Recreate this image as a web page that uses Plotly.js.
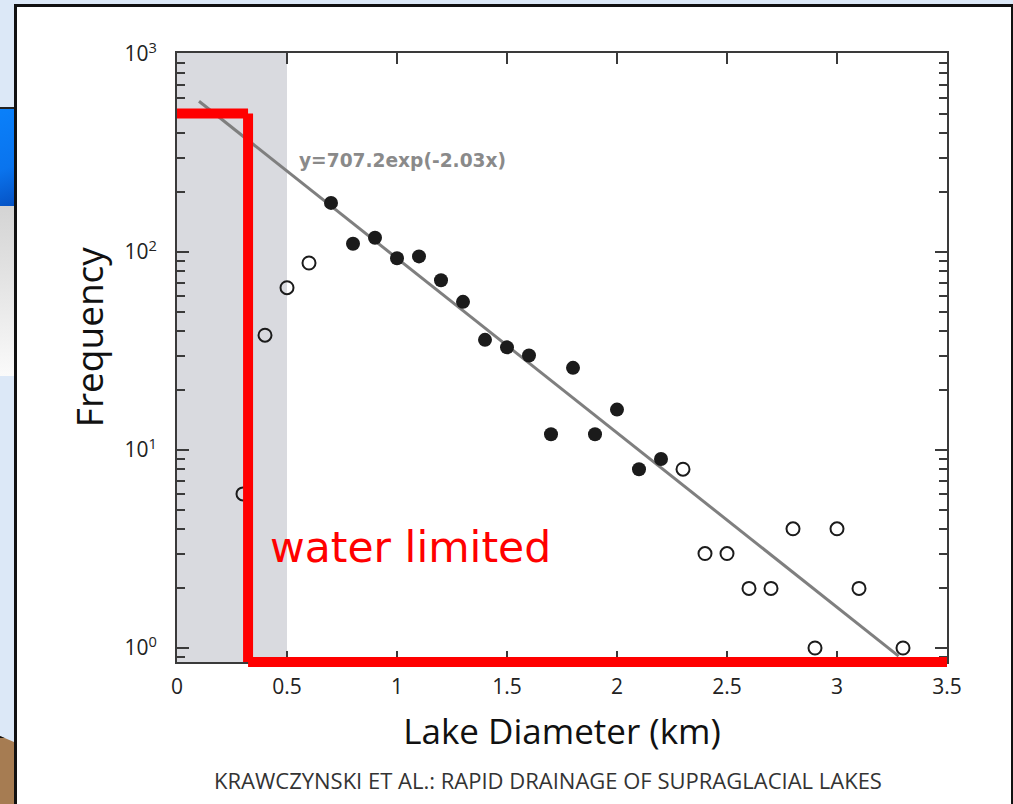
<!DOCTYPE html>
<html><head><meta charset="utf-8">
<script src="https://cdn.plot.ly/plotly-3.0.1.min.js"></script>
<style>
html,body{margin:0;padding:0;width:1013px;height:804px;overflow:hidden;background:#dce8f7;}
.panel{position:absolute;left:14px;top:4px;width:994px;height:820px;background:#fff;border-left:3px solid #111;border-top:3px solid #111;border-right:2px solid #111;}
.blue{position:absolute;left:0;top:107px;width:14px;height:97px;background:linear-gradient(160deg,#0a80fa,#0a74ee 60%,#0552c4);border-top:2px solid #222;border-bottom:2px solid #222;}
.grey{position:absolute;left:0;top:206px;width:14px;height:170px;background:linear-gradient(180deg,#d4d4d4,#e6e6e6 50%,#fafafa);}
.brown{position:absolute;left:0;top:736px;width:14px;height:70px;background:#a67c52;clip-path:polygon(0 0,100% 6px,100% 100%,0 100%);border-top:2px solid #111;}
#chart{position:absolute;left:0;top:0;width:1013px;height:804px;}
</style>
</head>
<body>
<div class="blue"></div>
<div class="grey"></div>
<div class="brown"></div>
<div class="panel"></div>
<div id="chart"></div>
<script>
// Lake diameter (km) vs frequency
const openLowX = [0.3, 0.4, 0.5, 0.6];
const openLowY = [6, 38, 66, 88];
const filledX = [0.7, 0.8, 0.9, 1.0, 1.1, 1.2, 1.3, 1.4, 1.5, 1.6, 1.7, 1.8, 1.9, 2.0, 2.1, 2.2];
const filledY = [177, 110, 118, 93, 95, 72, 56, 36, 33, 30, 12, 26, 12, 16, 8, 9];
const openHighX = [2.3, 2.4, 2.5, 2.6, 2.7, 2.8, 2.9, 3.0, 3.1, 3.3];
const openHighY = [8, 3, 3, 2, 2, 4, 1, 4, 2, 1];
// fitted exponential y=707.2exp(-2.03x): straight on log axis, end points
const fitX = [0.1, 3.28];
const fitY = [577, 0.91];
const fitLabel = 'y=707.2exp(-2.03x)';
// shaded region and red "water limited" outline
const shadeX = [0, 0.5];
const waterLimitX = 0.323;
const waterLimitY = 500;
const yBottom = 0.85;
const xTickVals = [0, 0.5, 1, 1.5, 2, 2.5, 3, 3.5];
const xTickText = ['0', '0.5', '1', '1.5', '2', '2.5', '3', '3.5'];
const yTickVals = [1, 10, 100, 1000];
const yTickText = ['10<sup>0</sup>', '10<sup>1</sup>', '10<sup>2</sup>', '10<sup>3</sup>'];

const ink = '#1b1b1b';
const axisCol = '#3a3a3a';

const traces = [
  {x: fitX, y: fitY, mode: 'lines', line: {color: '#7f7f7f', width: 3}, hoverinfo: 'skip', showlegend: false},
  {x: openLowX, y: openLowY, mode: 'markers', showlegend: false,
   marker: {symbol: 'circle-open', size: 13, color: ink, line: {width: 2, color: ink}}},
  {x: filledX, y: filledY, mode: 'markers', showlegend: false,
   marker: {symbol: 'circle', size: 14, color: ink}},
  {x: openHighX, y: openHighY, mode: 'markers', showlegend: false,
   marker: {symbol: 'circle-open', size: 13, color: ink, line: {width: 2, color: ink}}}
];

const red = '#ff0000';
const layout = {
  width: 1013, height: 804,
  margin: {l: 177, r: 66, t: 53, b: 142, pad: 0},
  paper_bgcolor: 'rgba(0,0,0,0)',
  plot_bgcolor: '#ffffff',
  showlegend: false,
  font: {family: 'Open Sans, sans-serif', color: '#222'},
  xaxis: {
    range: [0, 3.5], tickvals: xTickVals, ticktext: xTickText,
    showgrid: false, zeroline: false, showline: true, linecolor: axisCol, linewidth: 2,
    mirror: 'ticks', ticks: 'inside', ticklen: 11, tickwidth: 2, tickcolor: axisCol,
    tickfont: {size: 21, color: '#222', family: 'Open Sans'},
    ticklabelstandoff: 5,
    title: {text: 'Lake Diameter (km)', font: {size: 35, color: '#111', family: 'Open Sans'}, standoff: 20}
  },
  yaxis: {
    type: 'log', range: [-0.0707, 3.005], tickvals: yTickVals, ticktext: yTickText,
    showgrid: false, zeroline: false, showline: true, linecolor: axisCol, linewidth: 2,
    mirror: 'ticks', ticks: 'inside', ticklen: 12, tickwidth: 2, tickcolor: axisCol,
    minor: {dtick: 'D1', ticks: 'inside', ticklen: 8, tickwidth: 2, tickcolor: axisCol, showgrid: false},
    tickfont: {size: 21, color: '#222', family: 'Open Sans'},
    ticklabelstandoff: 14
  },
  shapes: [
    {type: 'rect', layer: 'below', xref: 'x', yref: 'paper', x0: shadeX[0], x1: shadeX[1], y0: 0, y1: 1,
     fillcolor: '#d9dadf', line: {width: 0}},
    {type: 'line', layer: 'above', xref: 'x', yref: 'y', x0: 0, x1: waterLimitX,
     y0: waterLimitY, y1: waterLimitY, line: {color: red, width: 10}},
    {type: 'line', layer: 'above', xref: 'x', yref: 'y', x0: waterLimitX, x1: waterLimitX,
     y0: waterLimitY, y1: yBottom, line: {color: red, width: 10}},
    {type: 'line', layer: 'above', xref: 'x', yref: 'paper', x0: waterLimitX, x1: 3.5,
     y0: 0, y1: 0, line: {color: red, width: 10}}
  ],
  annotations: [
    {xref: 'paper', yref: 'paper', x: -0.114, y: 0.5337, xanchor: 'center', yanchor: 'middle',
     text: 'Frequency', textangle: -90, showarrow: false,
     font: {family: 'Open Sans', size: 37, color: '#111'}},
    {xref: 'paper', yref: 'paper', x: 0.1558, y: 0.8243, xanchor: 'left', yanchor: 'middle',
     text: '<b>' + fitLabel + '</b>', showarrow: false,
     font: {family: 'DejaVu Sans', size: 18.6, color: '#8a8a8a'}},
    {xref: 'paper', yref: 'paper', x: 0.1182, y: 0.1872, xanchor: 'left', yanchor: 'middle',
     text: 'water limited', showarrow: false,
     font: {family: 'DejaVu Sans', size: 42.5, color: red}},
    {xref: 'paper', yref: 'paper', x: 0.4818, y: -0.1938, xanchor: 'center', yanchor: 'middle',
     text: 'KRAWCZYNSKI ET AL.: RAPID DRAINAGE OF SUPRAGLACIAL LAKES', showarrow: false,
     font: {family: 'Open Sans', size: 22, color: '#333'}}
  ]
};

Plotly.newPlot('chart', traces, layout, {displayModeBar: false, staticPlot: true});
</script>
</body></html>
